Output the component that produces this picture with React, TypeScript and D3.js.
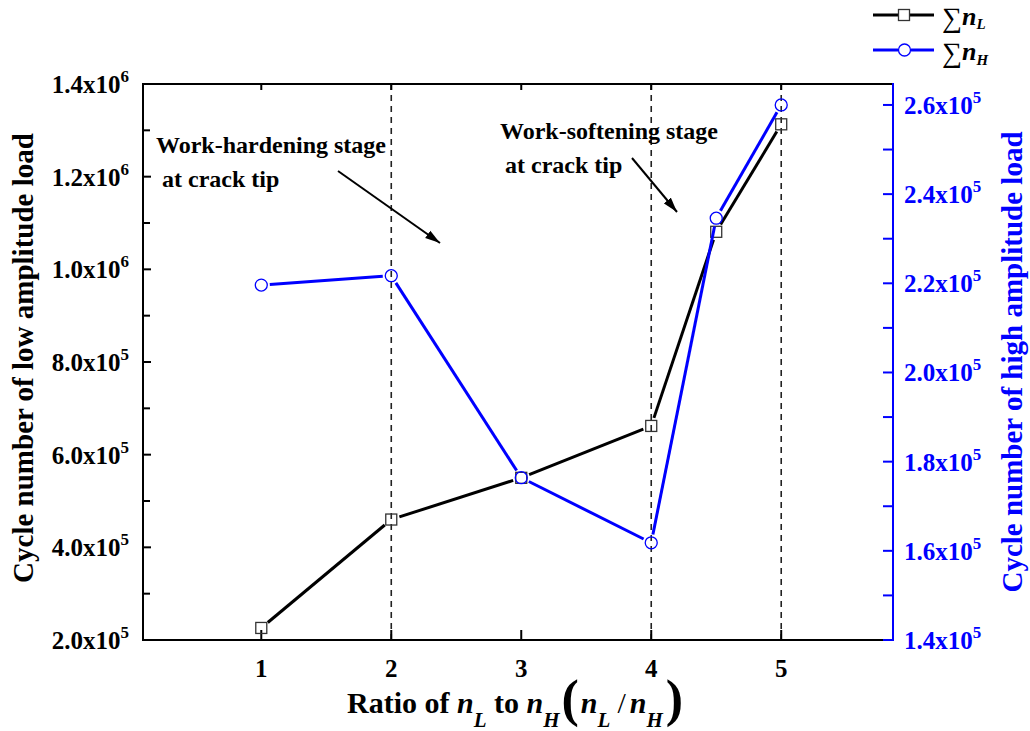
import React from "react";
import * as d3 from "d3";

// ---- data ----
const ratios = [1, 2, 3, 4, 4.5, 5];
const sumNL = [2.26e5, 4.6e5, 5.5e5, 6.62e5, 1.081e6, 1.313e6];
const sumNH = [2.196e5, 2.217e5, 1.764e5, 1.618e5, 2.346e5, 2.6e5];
const xTicks = [1, 2, 3, 4, 5];
const leftTicks = [2e5, 4e5, 6e5, 8e5, 1.0e6, 1.2e6, 1.4e6];
const leftMinor = [3e5, 5e5, 7e5, 9e5, 1.1e6, 1.3e6];
const rightTicks = [1.4e5, 1.6e5, 1.8e5, 2.0e5, 2.2e5, 2.4e5, 2.6e5];
const rightMinor = [1.5e5, 1.7e5, 1.9e5, 2.1e5, 2.3e5, 2.5e5];
const dashedAt = [2, 4, 5];

const W = 1030;
const H = 731;
const M = { left: 143, right: 893, top: 84, bottom: 640 };
const FONT = "'Liberation Serif', 'Times New Roman', serif";
const BLUE = "#0000ff";

function splitSci(v: number) {
  const e = Math.floor(Math.log10(v) + 1e-9);
  const m = v / Math.pow(10, e);
  return { m: m.toFixed(1), e: String(e) };
}

function shortened(pts: [number, number][], gap: number) {
  const out: [number, number, number, number][] = [];
  for (let i = 0; i < pts.length - 1; i++) {
    const [x1, y1] = pts[i];
    const [x2, y2] = pts[i + 1];
    const dx = x2 - x1, dy = y2 - y1;
    const len = Math.hypot(dx, dy);
    if (len <= 2 * gap) continue;
    const ux = dx / len, uy = dy / len;
    out.push([x1 + ux * gap, y1 + uy * gap, x2 - ux * gap, y2 - uy * gap]);
  }
  return out;
}

export default function App() {
  const x = d3.scaleLinear().domain([0.09, 5.86]).range([M.left, M.right]);
  const yL = d3.scaleLinear().domain([2e5, 1.4e6]).range([M.bottom, M.top]);
  const yR = d3.scaleLinear().domain([1.4e5, 2.647e5]).range([M.bottom, M.top]);

  const ptsL = ratios.map((r, i) => [x(r), yL(sumNL[i])] as [number, number]);
  const ptsH = ratios.map((r, i) => [x(r), yR(sumNH[i])] as [number, number]);
  const segL = shortened(ptsL, 8.5);
  const segH = shortened(ptsH, 8.5);

  const tickFont = 25;
  const supFont = 17;
  const tb = 713; // title baseline
  const sb = 727; // subscript baseline
  const pb = 716; // paren baseline

  return (
    <svg
      width={W}
      height={H}
      style={{ position: "absolute", left: 0, top: 0, background: "#fff" }}
      fontFamily={FONT}
    >
      <defs>
        <marker
          id="ah"
          markerUnits="userSpaceOnUse"
          markerWidth={16}
          markerHeight={10}
          refX={15}
          refY={5}
          orient="auto"
        >
          <path d="M0,0.5 L15,5 L0,9.5 Z" fill="#000" />
        </marker>
      </defs>
      <rect x={0} y={0} width={W} height={H} fill="#fff" />

      {/* dashed vertical lines */}
      {dashedAt.map((d) => (
        <line
          key={"d" + d}
          x1={x(d)}
          x2={x(d)}
          y1={M.top}
          y2={M.bottom}
          stroke="#222"
          strokeWidth={1.6}
          strokeDasharray="6,5"
        />
      ))}

      {/* axes frame */}
      <line x1={M.left} x2={M.right} y1={M.top} y2={M.top} stroke="#000" strokeWidth={2} />
      <line x1={M.left} x2={M.right} y1={M.bottom} y2={M.bottom} stroke="#000" strokeWidth={2} />
      <line x1={M.right - 6} x2={M.right} y1={M.bottom} y2={M.bottom} stroke={BLUE} strokeWidth={2} />
      <line x1={M.left} x2={M.left} y1={M.top - 1} y2={M.bottom + 1} stroke="#000" strokeWidth={2} />
      <line x1={M.right} x2={M.right} y1={M.top - 1} y2={M.bottom + 1} stroke={BLUE} strokeWidth={2} />

      {/* x ticks */}
      {xTicks.map((t) => (
        <g key={"xt" + t}>
          <line x1={x(t)} x2={x(t)} y1={M.bottom} y2={M.bottom - 10} stroke="#000" strokeWidth={2} />
          <line x1={x(t)} x2={x(t)} y1={M.top} y2={M.top + 6} stroke="#000" strokeWidth={2} />
          <text
            x={x(t)}
            y={M.bottom + 37}
            textAnchor="middle"
            fontSize={tickFont}
            fontWeight="bold"
          >
            {t}
          </text>
        </g>
      ))}

      {/* left ticks */}
      {leftTicks.map((t) => {
        const s = splitSci(t);
        return (
          <g key={"lt" + t}>
            <line x1={M.left} x2={M.left + 8} y1={yL(t)} y2={yL(t)} stroke="#000" strokeWidth={2} />
            <text x={129} y={yL(t) + 9} textAnchor="end" fontSize={tickFont} fontWeight="bold">
              {s.m + "x10"}
              <tspan fontSize={supFont} dy={-11}>
                {s.e}
              </tspan>
            </text>
          </g>
        );
      })}
      {leftMinor.map((t) => (
        <line key={"lm" + t} x1={M.left} x2={M.left + 7} y1={yL(t)} y2={yL(t)} stroke="#000" strokeWidth={2} />
      ))}

      {/* right ticks */}
      {rightTicks.map((t) => {
        const s = splitSci(t);
        return (
          <g key={"rt" + t}>
            <line x1={M.right} x2={M.right - 10} y1={yR(t)} y2={yR(t)} stroke={BLUE} strokeWidth={2} />
            <text x={904} y={yR(t) + 9} textAnchor="start" fontSize={tickFont} fontWeight="bold" fill={BLUE}>
              {s.m + "x10"}
              <tspan fontSize={supFont} dy={-11}>
                {s.e}
              </tspan>
            </text>
          </g>
        );
      })}
      {rightMinor.map((t) => (
        <line key={"rm" + t} x1={M.right} x2={M.right - 10} y1={yR(t)} y2={yR(t)} stroke={BLUE} strokeWidth={2} />
      ))}

      {/* axis titles */}
      <text
        transform={`translate(33,${(M.top + M.bottom) / 2 - 4}) rotate(-90)`}
        textAnchor="middle"
        fontSize={29}
        fontWeight="bold"
      >
        Cycle number of low amplitude load
      </text>
      <text
        transform={`translate(1022,${(M.top + M.bottom) / 2}) rotate(-90)`}
        textAnchor="middle"
        fontSize={29}
        fontWeight="bold"
        fill={BLUE}
      >
        Cycle number of high amplitude load
      </text>
      <text x={347} y={tb} textAnchor="start" fontSize={30} fontWeight="bold">
        <tspan y={tb}>Ratio of </tspan>
        <tspan y={tb} fontStyle="italic">n</tspan>
        <tspan y={sb} fontStyle="italic" fontSize={21}>L</tspan>
        <tspan y={tb}> to </tspan>
        <tspan y={tb} fontStyle="italic">n</tspan>
        <tspan y={sb} fontStyle="italic" fontSize={21}>H</tspan>
        <tspan y={pb} fontSize={52} dx={2}>(</tspan>
        <tspan y={tb} fontStyle="italic" dx={2}>n</tspan>
        <tspan y={sb} fontStyle="italic" fontSize={21}>L</tspan>
        <tspan y={tb} fontWeight="normal" dx={7}>/</tspan>
        <tspan y={tb} fontStyle="italic" dx={4}>n</tspan>
        <tspan y={sb} fontStyle="italic" fontSize={21}>H</tspan>
        <tspan y={pb} fontSize={52} dx={3}>)</tspan>
      </text>

      {/* annotations */}
      <text x={156} y={153} fontSize={24} fontWeight="bold">Work-hardening stage</text>
      <text x={162} y={187} fontSize={24} fontWeight="bold">at crack tip</text>
      <line x1={338} y1={171} x2={440} y2={243} stroke="#000" strokeWidth={2} markerEnd="url(#ah)" />
      <text x={500} y={139} fontSize={24} fontWeight="bold">Work-softening stage</text>
      <text x={505} y={173} fontSize={24} fontWeight="bold">at crack tip</text>
      <line x1={632} y1={158} x2={677} y2={212} stroke="#000" strokeWidth={2} markerEnd="url(#ah)" />

      {/* series nL */}
      {segL.map((s, i) => (
        <line key={"sl" + i} x1={s[0]} y1={s[1]} x2={s[2]} y2={s[3]} stroke="#000" strokeWidth={3} />
      ))}
      {ptsL.map((p, i) => (
        <rect
          key={"pl" + i}
          x={p[0] - 5.5}
          y={p[1] - 5.5}
          width={11}
          height={11}
          fill="none"
          stroke="#333"
          strokeWidth={1.3}
        />
      ))}

      {/* series nH */}
      {segH.map((s, i) => (
        <line key={"sh" + i} x1={s[0]} y1={s[1]} x2={s[2]} y2={s[3]} stroke={BLUE} strokeWidth={3} />
      ))}
      {ptsH.map((p, i) => (
        <circle key={"ph" + i} cx={p[0]} cy={p[1]} r={6} fill="none" stroke={BLUE} strokeWidth={1.3} />
      ))}

      {/* legend */}
      <line x1={873} x2={898} y1={15} y2={15} stroke="#000" strokeWidth={3} />
      <line x1={910} x2={934} y1={15} y2={15} stroke="#000" strokeWidth={3} />
      <rect x={898.5} y={9.5} width={11} height={11} fill="none" stroke="#333" strokeWidth={1.3} />
      <text x={942} y={25} fontSize={26}>
        <tspan fontSize={28} y={27}>∑</tspan>
        <tspan y={25} fontStyle="italic" fontWeight="bold">n</tspan>
        <tspan y={29} fontStyle="italic" fontWeight="bold" fontSize={15}>L</tspan>
      </text>
      <line x1={873} x2={898} y1={50} y2={50} stroke={BLUE} strokeWidth={3} />
      <line x1={911} x2={934} y1={50} y2={50} stroke={BLUE} strokeWidth={3} />
      <circle cx={904.5} cy={50} r={6} fill="none" stroke={BLUE} strokeWidth={1.3} />
      <text x={942} y={60} fontSize={26}>
        <tspan fontSize={28} y={62}>∑</tspan>
        <tspan y={60} fontStyle="italic" fontWeight="bold">n</tspan>
        <tspan y={65} fontStyle="italic" fontWeight="bold" fontSize={15}>H</tspan>
      </text>
    </svg>
  );
}
